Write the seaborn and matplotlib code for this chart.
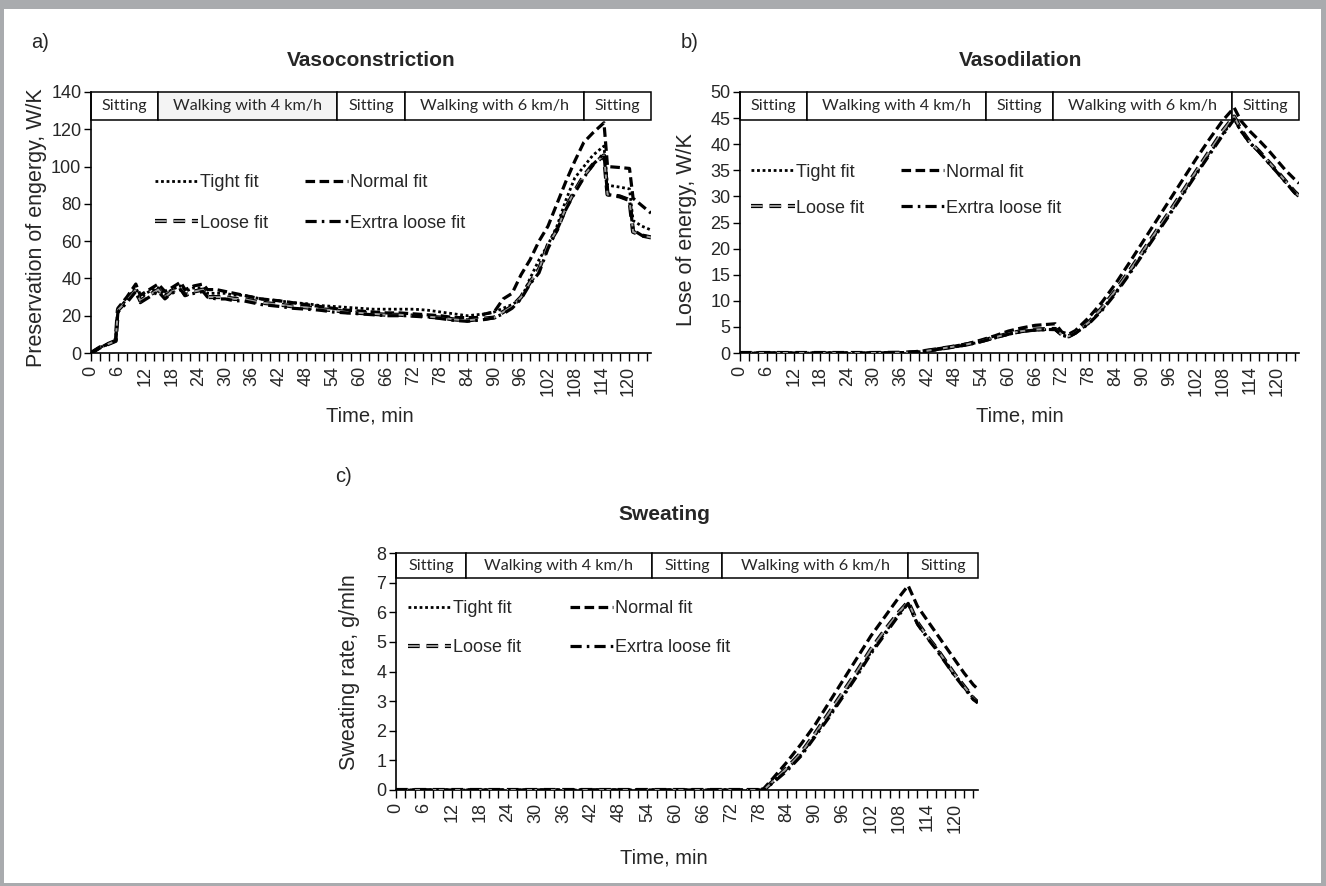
import numpy as np
import pandas as pd
import matplotlib
matplotlib.use("Agg")
import matplotlib.pyplot as plt
import matplotlib.transforms as mtransforms
from matplotlib import patheffects as pe
from matplotlib.patches import Rectangle
import seaborn as sns

# ---------------- data ----------------
series_names = ["Tight fit", "Normal fit", "Loose fit", "Exrtra loose fit"]
stage_labels = ["Sitting", "Walking with 4 km/h", "Sitting", "Walking with 6 km/h", "Sitting"]
stage_edges = [0, 15, 55, 70, 110, 125]

# (a) Vasoconstriction
t_a = [0, 2, 4, 5.5, 6, 8, 10, 11, 13, 15, 16.5, 18, 20, 21, 23, 25, 26, 28, 30, 32, 34, 36, 38, 40,
       42, 45, 48, 51, 54, 57, 60, 63, 66, 69, 72, 75, 78, 81, 84, 86, 88, 90, 92, 94, 96, 98, 100,
       102, 104, 106, 108, 110, 112, 114.5, 115.3, 118, 120.2, 121, 123, 125]
a_normal = [0, 3, 5, 6.5, 24, 30, 37, 31, 34, 37, 33, 35, 38, 34, 36, 37, 34, 34, 33, 32, 31, 30, 29, 28.5,
            28, 27, 26, 25, 24, 23, 22.5, 22, 21.5, 21.5, 21, 20.5, 20, 19, 19, 19, 21, 22, 29, 32, 42, 50, 60,
            68, 80, 92, 103, 113, 118, 123.5, 100, 99.5, 99, 83, 79, 75]
a_tight = [0, 3, 5, 6.5, 23, 29, 35, 30, 33, 35, 31, 34, 36, 33, 35, 35, 32, 32, 32, 31, 31, 30, 29, 28.5,
           28, 27, 26.5, 25.5, 25, 24.5, 24, 23.5, 23.5, 23.5, 23.5, 23, 22, 21, 20, 20.5, 21, 22, 24, 26, 29, 40, 50,
           58, 68, 82, 94, 100, 106, 111, 90, 89, 88, 71, 68, 66]
a_loose = [0, 3, 5, 6.5, 23, 28, 34, 28, 31, 34, 30, 33, 35, 31, 33, 34, 30, 30, 30, 29, 29, 28, 27, 26.5,
           26, 25, 24.5, 23.5, 23, 22, 21.5, 21, 20.5, 20.5, 20, 19.5, 19, 18, 17.5, 18, 18.5, 19, 22, 25, 30, 38, 45,
           58, 66, 78, 87, 95, 101, 106, 85, 84, 82, 65, 63, 62]
a_extra = [0, 3, 5, 6.5, 22, 27, 33, 27, 30, 33, 29, 32, 34, 31, 32, 33, 30, 29, 29, 28, 28, 27, 26, 25.5,
           25, 24, 23.5, 23, 22, 21.5, 21, 20.5, 20, 20, 20, 19.5, 18.5, 17.5, 17, 17.5, 18, 19, 21, 24, 29, 37, 43,
           56, 66, 77, 86, 94, 101, 107, 85, 84, 82, 66, 63, 62]

# (b) Vasodilation
t_b = [0, 6, 12, 18, 24, 30, 36, 39, 42, 45, 48, 51, 54, 57, 60, 63, 66, 69, 70.5, 72, 73.5, 75, 78, 81,
       84, 87, 90, 93, 96, 99, 102, 105, 108, 110.5, 112, 114, 116, 118, 120, 122, 124, 125]
b_normal = [0, 0, 0, 0, 0, 0, 0.05, 0.2, 0.5, 0.9, 1.3, 1.8, 2.5, 3.3, 4.2, 4.8, 5.3, 5.5, 5.6, 4.0, 3.6, 4.3,
            6.8, 9.8, 13.3, 17.2, 21.2, 25.2, 29.2, 33.2, 37.2, 41.0, 44.6, 47.0, 44.5, 42.5, 40.8, 39.0,
            37.0, 35.0, 33.3, 32.5]
b_tight = [0, 0, 0, 0, 0, 0, 0.05, 0.15, 0.4, 0.8, 1.2, 1.6, 2.2, 2.9, 3.6, 4.1, 4.4, 4.5, 4.5, 3.4, 3.1, 3.8,
           5.7, 8.4, 11.6, 15.2, 19.0, 22.8, 26.6, 30.5, 34.4, 38.2, 42.0, 44.8, 42.5, 40.2, 38.6, 36.7,
           34.8, 32.8, 30.8, 30.0]
b_loose = [0, 0, 0, 0, 0, 0, 0.05, 0.15, 0.45, 0.85, 1.25, 1.7, 2.3, 3.0, 3.7, 4.2, 4.5, 4.6, 4.6, 3.5, 3.2, 3.9,
           5.9, 8.7, 12.0, 15.6, 19.4, 23.2, 27.0, 30.9, 34.8, 38.7, 42.6, 45.3, 42.8, 40.4, 38.7, 36.8,
           34.9, 32.9, 30.9, 30.1]
b_extra = [0, 0, 0, 0, 0, 0, 0.05, 0.15, 0.4, 0.8, 1.2, 1.6, 2.2, 2.9, 3.6, 4.1, 4.4, 4.5, 4.5, 3.4, 3.1, 3.8,
           5.6, 8.2, 11.4, 15.0, 18.8, 22.6, 26.4, 30.3, 34.2, 38.0, 41.8, 44.8, 42.6, 40.3, 38.6, 36.6,
           34.7, 32.7, 30.7, 29.8]

# (c) Sweating
t_c = [0, 78, 79, 81, 84, 87, 90, 93, 96, 99, 102, 105, 108, 110, 112, 114, 116, 118, 120, 122, 124, 125]
c_normal = [0, 0, 0.05, 0.4, 0.95, 1.55, 2.2, 2.95, 3.7, 4.45, 5.2, 5.85, 6.5, 6.9, 6.2, 5.75, 5.3, 4.85,
            4.4, 3.95, 3.55, 3.4]
c_tight = [0, 0, 0.0, 0.3, 0.7, 1.2, 1.85, 2.5, 3.2, 3.9, 4.65, 5.3, 5.95, 6.3, 5.6, 5.2, 4.8, 4.35,
           3.9, 3.5, 3.1, 2.95]
c_loose = [0, 0, 0.0, 0.3, 0.75, 1.25, 1.9, 2.6, 3.3, 4.0, 4.75, 5.4, 6.0, 6.35, 5.65, 5.2, 4.8, 4.35,
           3.9, 3.5, 3.1, 2.95]
c_extra = [0, 0, 0.0, 0.25, 0.65, 1.15, 1.8, 2.45, 3.15, 3.85, 4.6, 5.25, 5.9, 6.3, 5.6, 5.15, 4.75, 4.3,
           3.85, 3.45, 3.05, 2.95]

# ---------------- style ----------------
sns.set_style("ticks")
plt.rcParams["font.family"] = ["Liberation Sans", "DejaVu Sans"]

line_styles = {
    "Tight fit": dict(color="black", lw=2.0, linestyle=(0, (1, 1))),
    "Normal fit": dict(color="black", lw=2.3, linestyle=(0, (3, 1.4))),
    "Loose fit": dict(color="#9a9a9a", lw=1.4, linestyle=(0, (6, 3.5)),
                      path_effects=[pe.Stroke(linewidth=3.0, foreground="black"), pe.Normal()]),
    "Exrtra loose fit": dict(color="black", lw=2.3, linestyle=(0, (3.5, 1.6, 0.8, 1.6))),
}

fig = plt.figure(figsize=(13.26, 8.86), dpi=100)


def draw_panel(ax, t, data, ymax, ystep, ylabel, title, letter, legend_anchor, colspacing,
               labspacing, title_xy, letter_xy, xlabel_xy, ylabel_xy):
    for name in series_names:
        sns.lineplot(x=t, y=data[name], ax=ax, sort=False, errorbar=None, label=name,
                     legend=False, zorder=3, **line_styles[name])
    ax.set_xlim(0, 125)
    ax.set_ylim(0, ymax)
    ax.set_xticks(np.arange(0, 121, 6))
    ax.set_xticklabels([str(v) for v in range(0, 121, 6)], rotation=90)
    ax.set_xticks(np.arange(0, 125, 2), minor=True)
    ax.set_yticks(np.arange(0, ymax + 0.001, ystep))
    ax.tick_params(axis="x", which="both", direction="out", length=6, width=1, color="black",
                   labelsize=13, pad=3)
    ax.tick_params(axis="y", direction="out", length=5, width=1, color="black", labelsize=13, pad=2)
    for s in ["top", "right"]:
        ax.spines[s].set_visible(False)
    for s in ["left", "bottom"]:
        ax.spines[s].set_color("black")
        ax.spines[s].set_linewidth(1.2)
    ax.set_xlabel("")
    ax.set_ylabel("")
    # activity boxes
    trans = mtransforms.blended_transform_factory(ax.transData, ax.transAxes)
    for i, lab in enumerate(stage_labels):
        x0, x1 = stage_edges[i], stage_edges[i + 1]
        fc = "#f4f4f4" if (lab.startswith("Walking with 4") and letter == "a)") else "white"
        ax.add_patch(Rectangle((x0, 0.893), x1 - x0, 0.107, transform=trans, facecolor=fc,
                               edgecolor="black", lw=1.1, zorder=2, clip_on=False))
        ax.text((x0 + x1) / 2, 0.946, lab, transform=trans, ha="center", va="center",
                fontsize=11.6, family=["Lato", "DejaVu Sans"], zorder=4)
    # legend
    lines = {ln.get_label(): ln for ln in ax.get_lines()}
    order = ["Tight fit", "Loose fit", "Normal fit", "Exrtra loose fit"]
    ax.legend([lines[n] for n in order], order, ncol=2, loc="upper left",
              bbox_to_anchor=legend_anchor, frameon=False, fontsize=13, handlelength=2.4,
              handletextpad=0.1, columnspacing=colspacing, labelspacing=labspacing, borderpad=0,
              borderaxespad=0)
    W, H = 1326, 886
    fig.text(title_xy[0] / W, 1 - title_xy[1] / H, title, ha="center", va="center",
             fontsize=15, fontweight="bold")
    fig.text(letter_xy[0] / W, 1 - letter_xy[1] / H, letter, ha="center", va="center", fontsize=14.5)
    fig.text(xlabel_xy[0] / W, 1 - xlabel_xy[1] / H, "Time, min", ha="center", va="center",
             fontsize=14.5)
    fig.text(ylabel_xy[0] / W, 1 - ylabel_xy[1] / H, ylabel, ha="center", va="center",
             fontsize=15.5, rotation=90)


W, H = 1326, 886
ax_a = fig.add_axes([91 / W, 1 - 353 / H, 560 / W, 261 / H])
ax_b = fig.add_axes([740 / W, 1 - 353 / H, 559 / W, 261 / H])
ax_c = fig.add_axes([396 / W, 1 - 790 / H, 582 / W, 237 / H])

draw_panel(ax_a, t_a, {"Tight fit": a_tight, "Normal fit": a_normal, "Loose fit": a_loose,
                       "Exrtra loose fit": a_extra},
           140, 20, "Preservation of engergy, W/K", "Vasoconstriction", "a)",
           (0.114, 0.685), 2.05, 1.3, (371, 60), (40, 42), (370, 416), (37, 228))
draw_panel(ax_b, t_b, {"Tight fit": b_tight, "Normal fit": b_normal, "Loose fit": b_loose,
                       "Exrtra loose fit": b_extra},
           50, 5, "Lose of energy, W/K", "Vasodilation", "b)",
           (0.02, 0.725), 2.0, 1.05, (1021, 60), (690, 42), (1020, 416), (686, 230))
draw_panel(ax_c, t_c, {"Tight fit": c_tight, "Normal fit": c_normal, "Loose fit": c_loose,
                       "Exrtra loose fit": c_extra},
           8, 1, "Sweating rate, g/mln", "Sweating", "c)",
           (0.02, 0.80), 2.7, 1.2, (664, 515), (343, 477), (664, 858), (349, 672))

# grey frame around the figure
gray = "#a9abae"
for (x, y, w, h) in [(0, 1 - 9 / H, 1, 9 / H), (0, 0, 4 / W, 1), (1 - 5 / W, 0, 5 / W, 1), (0, 0, 1, 3 / H)]:
    fig.patches.append(Rectangle((x, y), w, h, transform=fig.transFigure, facecolor=gray,
                                 edgecolor="none", zorder=0))

fig.savefig("out.png", dpi=100)
